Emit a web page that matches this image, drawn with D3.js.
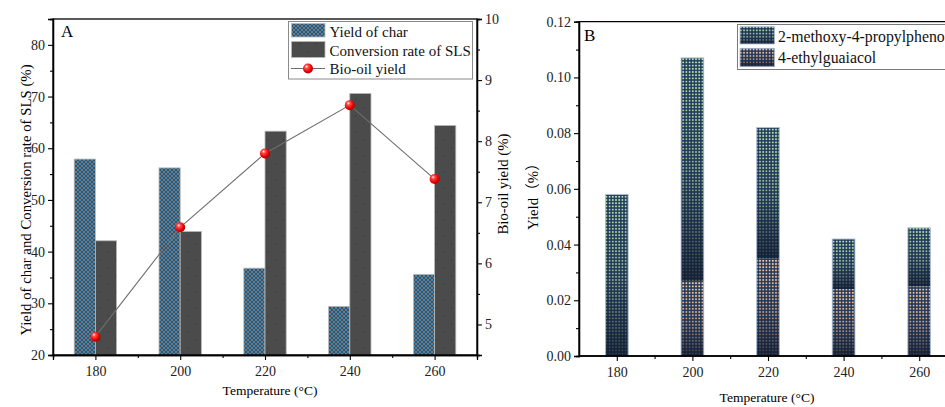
<!DOCTYPE html>
<html>
<head>
<meta charset="utf-8">
<script src="https://cdn.jsdelivr.net/npm/d3@7"></script>
<style>
html,body{margin:0;padding:0;background:#fff;overflow:hidden;}
svg{display:block;}
svg text{font-family:"Liberation Serif","Times New Roman",serif !important;}
svg text.cjk{font-family:"Liberation Serif","Noto Sans CJK SC",serif !important;}
</style>
</head>
<body>
<svg id="chart" width="945" height="407"></svg>
<script>
// ---------------- data ----------------
const temperatures = [180, 200, 220, 240, 260];
const charYield = [57.9, 56.2, 36.8, 29.4, 35.6];
const conversionSLS = [42.1, 43.9, 63.3, 70.6, 64.4];
const bioOilYield = [4.80, 6.59, 7.80, 8.59, 7.38];
const ethylguaiacol = [0.0, 0.027, 0.035, 0.024, 0.025];
const propylphenol = [0.058, 0.080, 0.047, 0.018, 0.021];
const leftTicksA = [20, 30, 40, 50, 60, 70, 80];
const rightTicksA = [5, 6, 7, 8, 9, 10];
const ticksB = [0, 0.02, 0.04, 0.06, 0.08, 0.10, 0.12];
const legendA = ["Yield of char", "Conversion rate of SLS", "Bio-oil yield"];
const legendB = ["2-methoxy-4-propylphenol", "4-ethylguaiacol"];

const svg = d3.select("#chart");
const defs = svg.append("defs");

// patterns
const pChar = defs.append("pattern").attr("id","pChar").attr("patternUnits","userSpaceOnUse")
  .attr("width",4).attr("height",4);
pChar.append("rect").attr("width",4).attr("height",4).attr("fill","#4d4d4f");
pChar.append("path").attr("d","M0,0L4,4M4,0L0,4").attr("stroke","#3f8fc2").attr("stroke-width",0.9);

const pConv = defs.append("pattern").attr("id","pConv").attr("patternUnits","userSpaceOnUse")
  .attr("width",16).attr("height",16);
pConv.append("rect").attr("width",16).attr("height",16).attr("fill","#4b4b4b");
pConv.append("rect").attr("x",3).attr("y",3).attr("width",1.3).attr("height",1.3).attr("fill","#1d3f82");
pConv.append("rect").attr("x",11).attr("y",11).attr("width",1.3).attr("height",1.3).attr("fill","#1d3f82");

function dotPattern(id, dot){
  const p = defs.append("pattern").attr("id",id).attr("patternUnits","userSpaceOnUse")
    .attr("width",3.2).attr("height",3.2);
  p.append("rect").attr("width",3.2).attr("height",3.2).attr("fill","#1f3459");
  p.append("rect").attr("x",0.7).attr("y",0.7).attr("width",1.8).attr("height",1.8).attr("fill",dot);
}
dotPattern("pGreen","#b4e6b2");
dotPattern("pOrange","#f8cfa4");

const fade = defs.append("linearGradient").attr("id","fade").attr("x1",0).attr("y1",0).attr("x2",0).attr("y2",1);
fade.append("stop").attr("offset","0").attr("stop-color","#15223d").attr("stop-opacity",0);
fade.append("stop").attr("offset","0.5").attr("stop-color","#15223d").attr("stop-opacity",0.25);
fade.append("stop").attr("offset","1").attr("stop-color","#111b30").attr("stop-opacity",0.85);

const ball = defs.append("radialGradient").attr("id","ball").attr("cx","40%").attr("cy","38%").attr("r","65%")
  .attr("fx","35%").attr("fy","30%");
ball.append("stop").attr("offset","0").attr("stop-color","#ffffff");
ball.append("stop").attr("offset","0.25").attr("stop-color","#ff5050");
ball.append("stop").attr("offset","0.7").attr("stop-color","#ee0000");
ball.append("stop").attr("offset","1").attr("stop-color","#a00000");

// ---------------- Panel A ----------------
const xA = d3.scaleLinear().domain([170, 270]).range([53, 477]);
const yA = d3.scaleLinear().domain([20, 85]).range([355, 19]);
const yR = d3.scaleLinear().domain([4.5, 10]).range([355, 19]);
const gA = svg.append("g");

gA.selectAll(".char").data(temperatures).join("rect")
  .attr("x", d => xA(d - 5)).attr("width", (d) => xA(d) - xA(d - 5))
  .attr("y", (d,i) => yA(charYield[i])).attr("height", (d,i) => yA(20) - yA(charYield[i]))
  .attr("fill","url(#pChar)").attr("stroke","#b8b8b8").attr("stroke-width",0.8);
gA.selectAll(".conv").data(temperatures).join("rect")
  .attr("x", d => xA(d)).attr("width", d => xA(d + 5) - xA(d))
  .attr("y", (d,i) => yA(conversionSLS[i])).attr("height", (d,i) => yA(20) - yA(conversionSLS[i]))
  .attr("fill","url(#pConv)").attr("stroke","#b8b8b8").attr("stroke-width",0.8);

const line = d3.line().x((d,i) => xA(temperatures[i])).y(d => yR(d));
gA.append("path").datum(bioOilYield).attr("d", line).attr("fill","none").attr("stroke","#6e6e6e").attr("stroke-width",1.1);
gA.selectAll(".pt").data(bioOilYield).join("circle")
  .attr("cx",(d,i) => xA(temperatures[i])).attr("cy", d => yR(d)).attr("r",5).attr("fill","url(#ball)");

gA.append("rect").attr("x",53).attr("y",19).attr("width",424).attr("height",336)
  .attr("fill","none").attr("stroke","#000").attr("stroke-width",1.3);

function styleAxis(g, fs){
  g.attr("font-family",null);
  g.selectAll("path.domain").attr("stroke","#000").attr("stroke-width",1.3);
  g.selectAll(".tick line").attr("stroke","#000").attr("stroke-width",1.1);
  g.selectAll("text").attr("font-size",fs).attr("fill","#222");
}

const axL = gA.append("g").attr("transform","translate(53,0)")
  .call(d3.axisLeft(yA).tickValues(leftTicksA).tickSize(5).tickPadding(3).tickFormat(d3.format("d")));
styleAxis(axL, 14);
const axLm = gA.append("g").attr("transform","translate(53,0)")
  .call(d3.axisLeft(yA).tickValues(leftTicksA.map(d => d + 5)).tickSize(3).tickFormat(""));
styleAxis(axLm, 14);
const axR = gA.append("g").attr("transform","translate(477,0)")
  .call(d3.axisRight(yR).tickValues(rightTicksA).tickSize(5).tickPadding(3).tickFormat(d3.format("d")));
styleAxis(axR, 14);
const axRm = gA.append("g").attr("transform","translate(477,0)")
  .call(d3.axisRight(yR).tickValues(rightTicksA.map(d => d - 0.5)).tickSize(3).tickFormat(""));
styleAxis(axRm, 14);
const axB = gA.append("g").attr("transform","translate(0,355)")
  .call(d3.axisBottom(xA).tickValues(temperatures).tickSize(5).tickPadding(6).tickFormat(d3.format("d")));
styleAxis(axB, 14);
const axBm = gA.append("g").attr("transform","translate(0,355)")
  .call(d3.axisBottom(xA).tickValues(temperatures.slice(0,4).map(d => d + 10)).tickSize(3).tickFormat(""));
styleAxis(axBm, 14);

gA.append("text").attr("x",61).attr("y",37).attr("font-size",17).text("A");
gA.append("text").attr("x",270).attr("y",395).attr("text-anchor","middle").attr("font-size",13.5).text("Temperature (°C)");
gA.append("text").attr("transform","translate(31,200) rotate(-90)").attr("text-anchor","middle")
  .attr("font-size",14.8).text("Yield of char and Conversion rate of SLS (%)");
gA.append("text").attr("transform","translate(508,184) rotate(-90)").attr("text-anchor","middle")
  .attr("font-size",14.8).text("Bio-oil yield (%)");

const lgA = gA.append("g");
lgA.append("rect").attr("x",288.5).attr("y",21.5).attr("width",184).attr("height",57.5)
  .attr("fill","#fff").attr("stroke","#8a8a8a").attr("stroke-width",1);
lgA.append("rect").attr("x",291.5).attr("y",23.5).attr("width",33.5).attr("height",13.5)
  .attr("fill","url(#pChar)").attr("stroke","#b8b8b8").attr("stroke-width",0.8);
lgA.append("rect").attr("x",291.5).attr("y",41.5).attr("width",33.5).attr("height",16)
  .attr("fill","url(#pConv)").attr("stroke","#b8b8b8").attr("stroke-width",0.8);
lgA.append("line").attr("x1",291).attr("x2",325).attr("y1",68.5).attr("y2",68.5).attr("stroke","#6e6e6e").attr("stroke-width",1.1);
lgA.append("circle").attr("cx",308).attr("cy",68.5).attr("r",5).attr("fill","url(#ball)");
lgA.selectAll(".lt").data(legendA).join("text")
  .attr("x",329.5).attr("y",(d,i) => [36.5, 55.5, 73.5][i]).attr("font-size",15).attr("fill","#111").text(d => d);

// ---------------- Panel B ----------------
const xB = d3.scaleLinear().domain([170, 270]).range([579, 957]);
const yB = d3.scaleLinear().domain([0, 0.12]).range([356, 21.7]);
const gB = svg.append("g");

function segment(g, x0, x1, v0, v1, pat){
  g.append("rect").attr("x",x0).attr("width",x1-x0).attr("y",yB(v1)).attr("height",yB(v0)-yB(v1))
    .attr("fill",`url(#${pat})`);
  g.append("rect").attr("x",x0).attr("width",x1-x0).attr("y",yB(v1)).attr("height",yB(v0)-yB(v1))
    .attr("fill","url(#fade)");
}
temperatures.forEach((t,i) => {
  const x0 = xB(t - 3), x1 = xB(t + 3);
  const e = ethylguaiacol[i], p = propylphenol[i];
  if (e > 0) segment(gB, x0, x1, 0, e, "pOrange");
  segment(gB, x0, x1, e, e + p, "pGreen");
  gB.append("rect").attr("x",x0).attr("width",x1-x0).attr("y",yB(e+p)).attr("height",yB(0)-yB(e+p))
    .attr("fill","none").attr("stroke","#aebfd2").attr("stroke-width",0.9);
});

gB.append("path").attr("d",`M579,356V21.7H960`).attr("fill","none").attr("stroke","#000").attr("stroke-width",1.3);

const bL = gB.append("g").attr("transform","translate(579,0)")
  .call(d3.axisLeft(yB).tickValues(ticksB).tickSize(5).tickPadding(3).tickFormat(d3.format(".2f")));
styleAxis(bL, 14);
const bLm = gB.append("g").attr("transform","translate(579,0)")
  .call(d3.axisLeft(yB).tickValues(ticksB.slice(0,6).map(d => d + 0.01)).tickSize(3).tickFormat(""));
styleAxis(bLm, 14);
const bB = gB.append("g").attr("transform","translate(0,356)")
  .call(d3.axisBottom(xB).tickValues(temperatures).tickSize(5).tickPadding(6).tickFormat(d3.format("d")));
styleAxis(bB, 14);
const bBm = gB.append("g").attr("transform","translate(0,356)")
  .call(d3.axisBottom(xB).tickValues(temperatures.map(d => d + 10)).tickSize(3).tickFormat(""));
styleAxis(bBm, 14);
bB.select("path.domain").attr("d","M579,0H960");
bBm.select("path.domain").attr("d","M579,0H960");

gB.append("text").attr("x",584).attr("y",41).attr("font-size",17).text("B");
gB.append("text").attr("x",767).attr("y",402).attr("text-anchor","middle").attr("font-size",13.5).text("Temperature (°C)");
gB.append("text").attr("class","cjk").attr("transform","translate(538,193) rotate(-90)").attr("text-anchor","middle")
  .attr("font-size",14.8).text("Yield（%）");

const lgB = gB.append("g");
lgB.append("rect").attr("x",737.5).attr("y",24.5).attr("width",230).attr("height",45)
  .attr("fill","#fff").attr("stroke","#7a7a7a").attr("stroke-width",1);
[["pGreen",26.7,44],["pOrange",48.3,66.7]].forEach(([pat,y0,y1]) => {
  lgB.append("rect").attr("x",740).attr("y",y0).attr("width",34.5).attr("height",y1-y0).attr("fill",`url(#${pat})`);
  lgB.append("rect").attr("x",740).attr("y",y0).attr("width",34.5).attr("height",y1-y0).attr("fill","url(#fade)");
  lgB.append("rect").attr("x",740).attr("y",y0).attr("width",34.5).attr("height",y1-y0).attr("fill","none")
    .attr("stroke","#aebfd2").attr("stroke-width",0.8);
});
lgB.selectAll(".lt").data(legendB).join("text")
  .attr("x",778).attr("y",(d,i) => [41.5, 63][i]).attr("font-size",15.8).attr("fill","#111").text(d => d);
</script>
</body>
</html>
